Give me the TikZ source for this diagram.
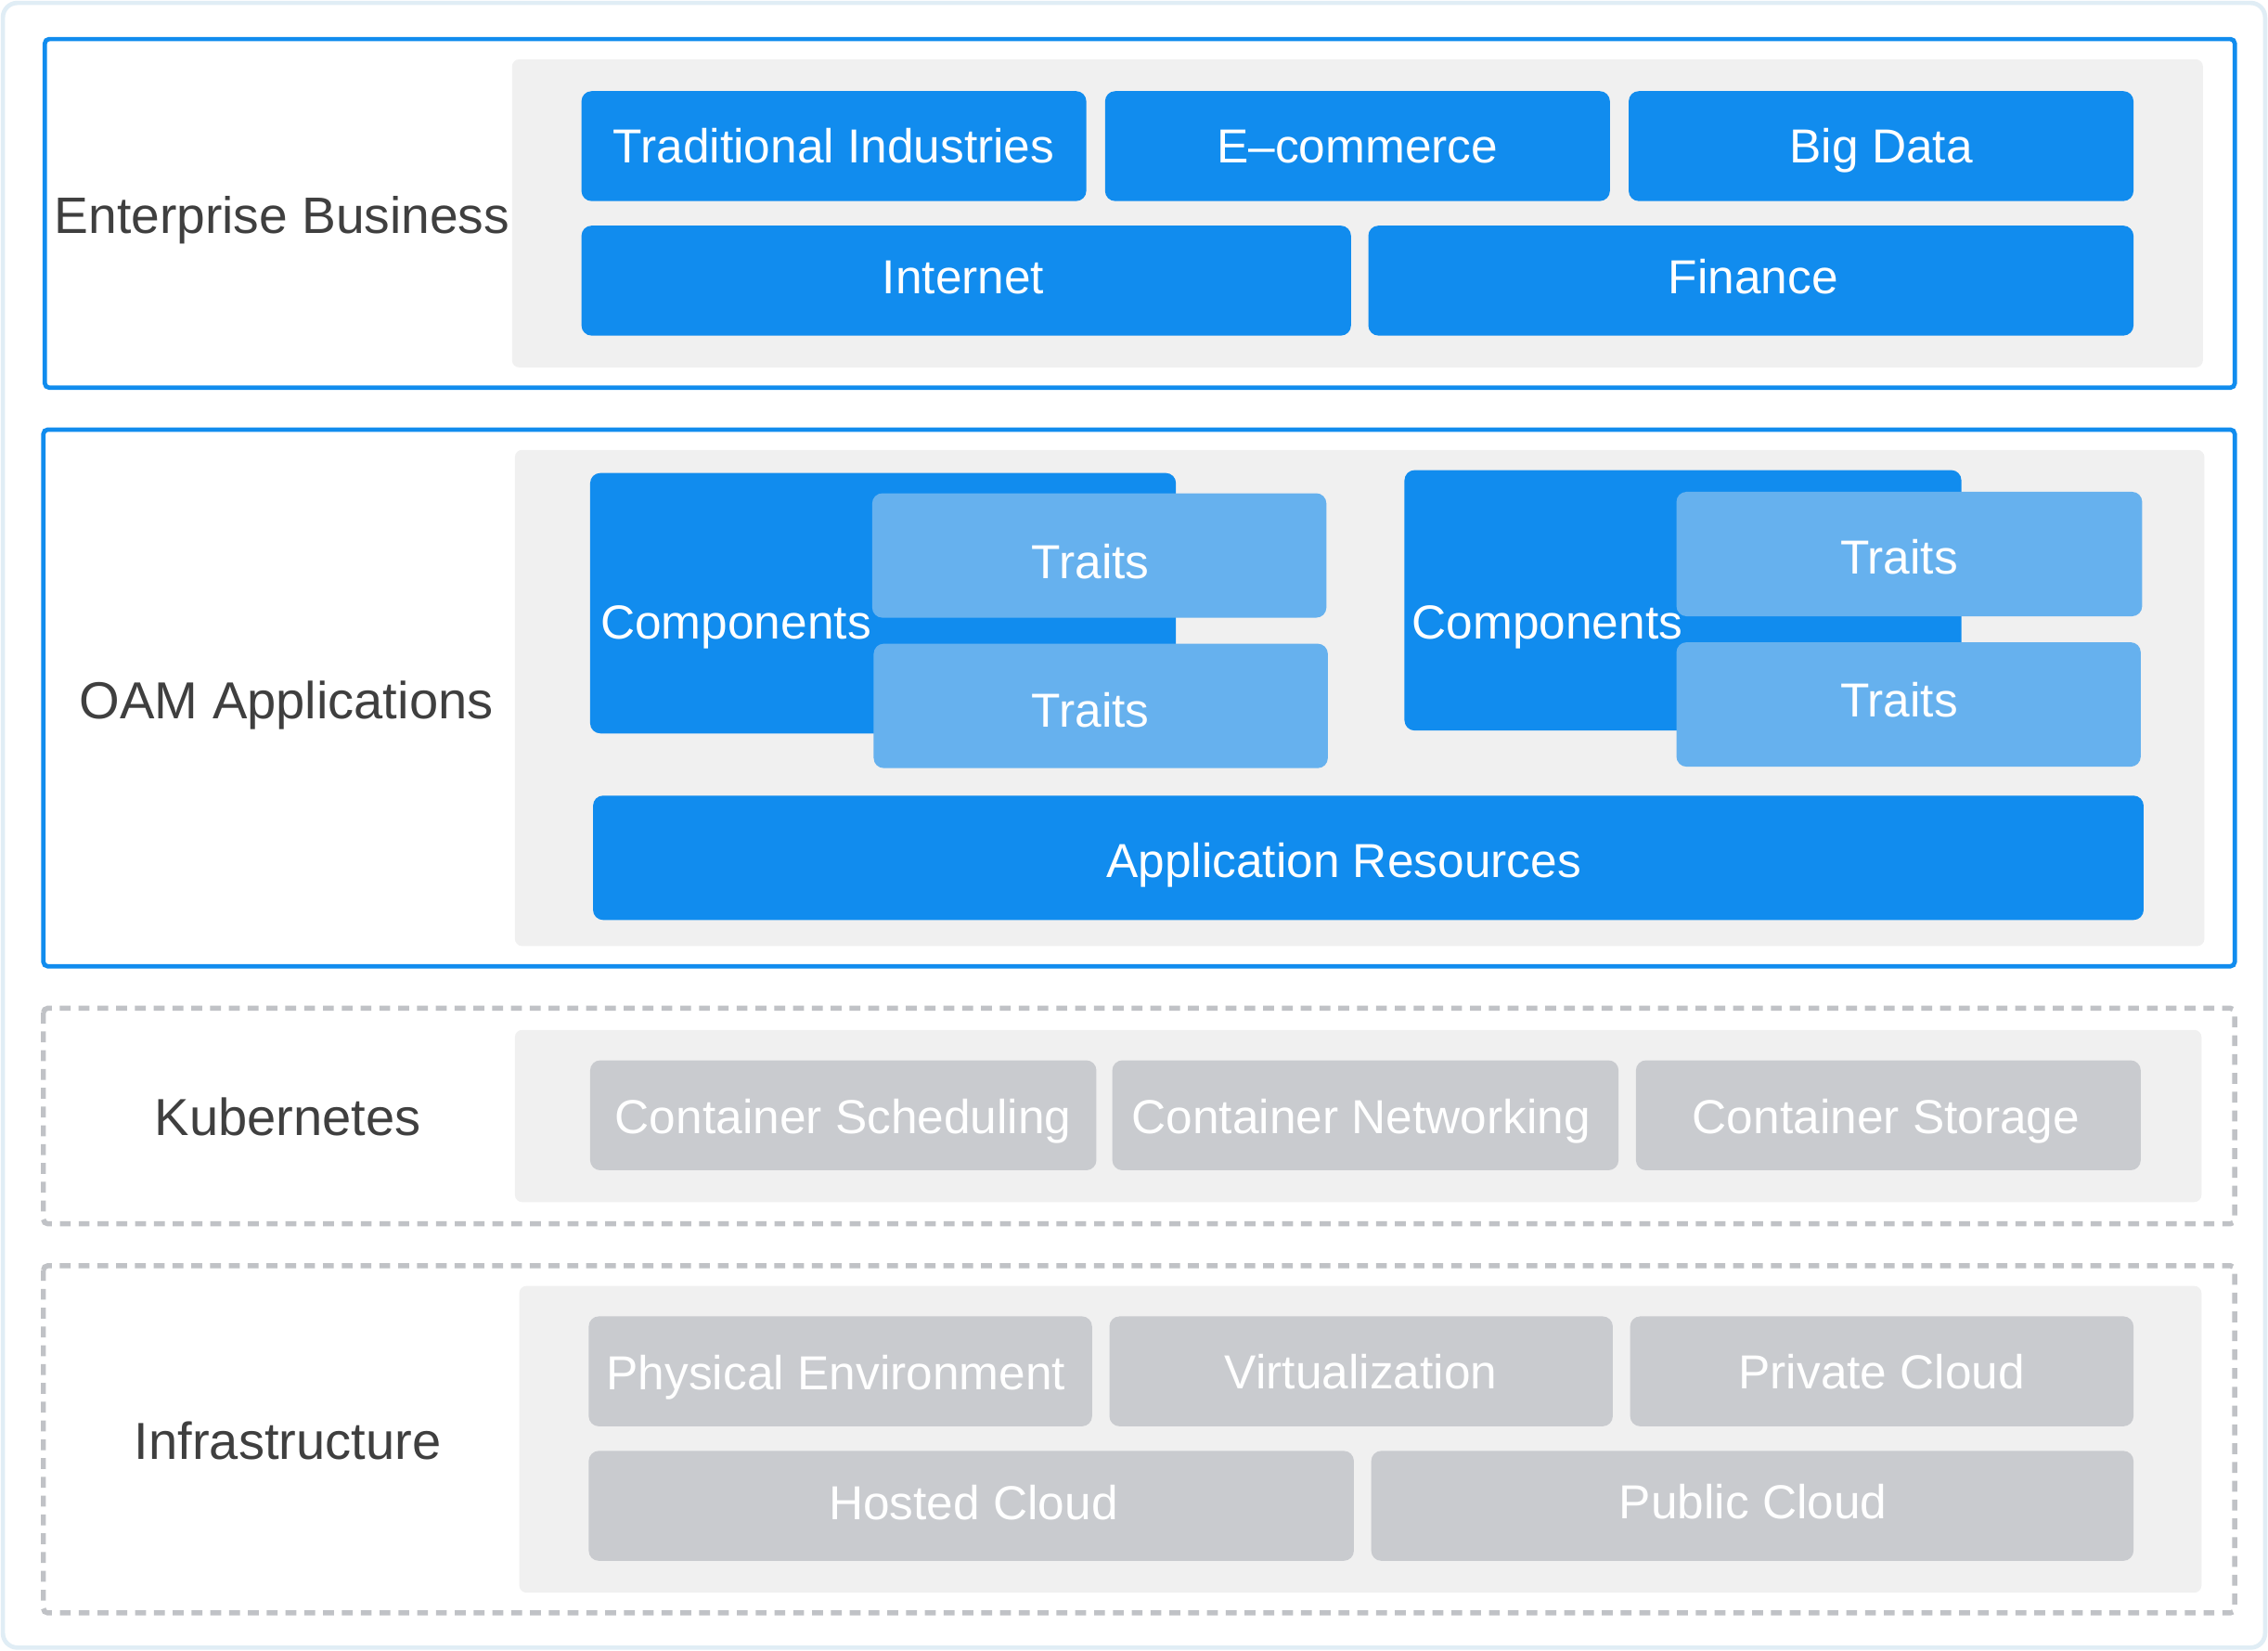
\documentclass[tikz,border=0pt]{standalone}
\usepackage{fontspec}
\setmainfont{Liberation Sans}
\definecolor{bblue}{HTML}{118CEE}
\definecolor{lblue}{HTML}{66B1EE}
\definecolor{panelgray}{HTML}{F0F0F0}
\definecolor{boxgray}{HTML}{C9CBCF}
\definecolor{dashgray}{HTML}{C0C2C6}
\definecolor{framecol}{HTML}{E0EDF5}
\definecolor{labelcol}{HTML}{3F3F3F}
\begin{document}
\begin{tikzpicture}[x=1pt,y=-1pt,
  layer/.style={draw=bblue,line width=3pt,rounded corners=3pt},
  dashlayer/.style={draw=dashgray,line width=3.5pt,dash pattern=on 7.5pt off 5.5pt,rounded corners=3pt},
  panel/.style={fill=panelgray,rounded corners=5pt},
  celltext/.style={text=white,inner sep=0pt,text height=23.6pt,text depth=0pt,font=\fontsize{33}{40}\selectfont},
  bluebox/.style={celltext,fill=bblue,rounded corners=7pt},
  traitbox/.style={celltext,fill=lblue,rounded corners=7pt},
  graybox/.style={celltext,fill=boxgray,rounded corners=7pt},
  layerlabel/.style={text=labelcol,inner sep=0pt,text height=25.8pt,text depth=0pt,font=\fontsize{36}{42}\selectfont}]
\useasboundingbox (0,0) rectangle (1568,1141);
\fill[white] (0,0) rectangle (1568,1141);
\draw[framecol,line width=3pt,rounded corners=10pt] (2,2) rectangle (1566,1139);

% Enterprise Business
\draw[layer] (31,27) rectangle (1545,268);
\fill[panel] (354,41) rectangle (1523,254);
\node[layerlabel,font=\fontsize{35.4}{42}\selectfont,text height=25.3pt] (lbl1) at (195,149) {Enterprise Business};
\node[bluebox,minimum width=349pt,minimum height=76pt] (ti) at (576.5,101) {Traditional Industries};
\node[bluebox,minimum width=349pt,minimum height=76pt] (ec) at (938.5,101) {E–commerce};
\node[bluebox,minimum width=349pt,minimum height=76pt] (bd) at (1300.5,101) {Big Data};
\node[bluebox,minimum width=532pt,minimum height=76pt] (inet) at (668,194) {};
\node[celltext] (inett) at (666,191) {Internet};
\node[bluebox,minimum width=529pt,minimum height=76pt] (fin) at (1210.5,194) {};
\node[celltext] (fint) at (1212,191) {Finance};

% OAM Applications
\draw[layer] (30,297) rectangle (1545,668);
\fill[panel] (356,311) rectangle (1524,654);
\node[layerlabel] (lbl2) at (198,484) {OAM Applications};
\node[bluebox,minimum width=405pt,minimum height=180pt] (comp1) at (610.5,417) {};
\node[celltext,anchor=west] (comp1t) at (415,430) {Components};
\node[traitbox,minimum width=314pt,minimum height=86pt] (tr1a) at (760,384) {};
\node[celltext] (tr1at) at (754,388) {Traits};
\node[traitbox,minimum width=314pt,minimum height=86pt] (tr1b) at (761,488) {};
\node[celltext] (tr1bt) at (754,491) {Traits};
\node[bluebox,minimum width=385pt,minimum height=180pt] (comp2) at (1163.5,415) {};
\node[celltext,anchor=west] (comp2t) at (976,430) {Components};
\node[traitbox,minimum width=322pt,minimum height=86pt] (tr2a) at (1320,383) {};
\node[celltext] (tr2at) at (1313,385) {Traits};
\node[traitbox,minimum width=321pt,minimum height=86pt] (tr2b) at (1319.5,487) {};
\node[celltext] (tr2bt) at (1313,484) {Traits};
\node[bluebox,minimum width=1072pt,minimum height=86pt] (appres) at (946,593) {};
\node[celltext] (apprest) at (929,595) {Application Resources};

% Kubernetes
\draw[dashlayer] (30,697) rectangle (1545,846);
\fill[panel] (356,712) rectangle (1522,831);
\node[layerlabel] (lbl3) at (199,772) {Kubernetes};
\node[graybox,minimum width=350pt,minimum height=76pt] (cs) at (583,771) {};
\node[celltext] (cst1) at (583,772) {Container Scheduling};
\node[graybox,minimum width=350pt,minimum height=76pt] (cn) at (944,771) {};
\node[celltext] (cnt) at (941,772) {Container Networking};
\node[graybox,minimum width=349pt,minimum height=76pt] (cst) at (1305.5,771) {};
\node[celltext] (cstt) at (1304,772) {Container Storage};

% Infrastructure
\draw[dashlayer] (30,875) rectangle (1545,1115);
\fill[panel] (359,889) rectangle (1522,1101);
\node[layerlabel] (lbl4) at (199,996) {Infrastructure};
\node[graybox,minimum width=348pt,minimum height=76pt] (pe) at (581,948) {};
\node[celltext] (pet) at (578,949) {Physical Environment};
\node[graybox,minimum width=348pt,minimum height=76pt] (virt) at (941,948) {Virtualization};
\node[graybox,minimum width=348pt,minimum height=76pt] (pc) at (1301,948) {Private Cloud};
\node[graybox,minimum width=529pt,minimum height=76pt] (hc) at (671.5,1041) {};
\node[celltext] (hct) at (673,1039) {Hosted Cloud};
\node[graybox,minimum width=527pt,minimum height=76pt] (puc) at (1211.5,1041) {};
\node[celltext] (puct) at (1212,1038) {Public Cloud};
\end{tikzpicture}
\end{document}
